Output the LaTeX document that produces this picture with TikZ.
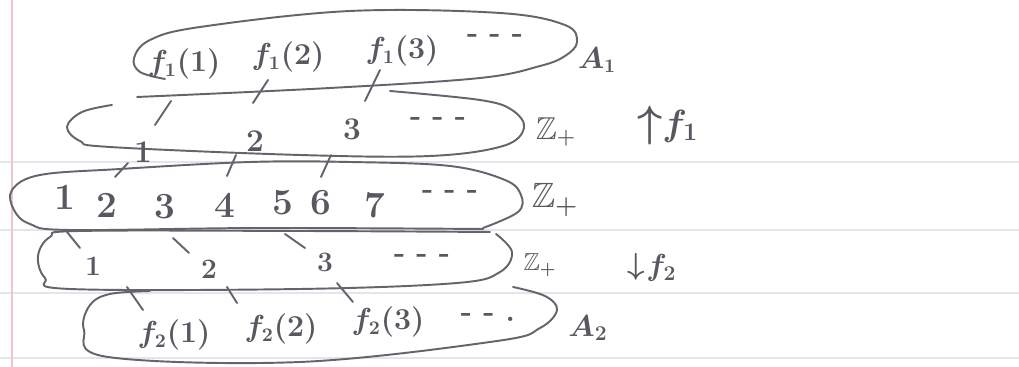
\documentclass[tikz,border=0pt]{standalone}
\usepackage{amssymb}
\usetikzlibrary{calc}
\definecolor{pencilc}{RGB}{100,100,108}
\definecolor{textc}{RGB}{88,88,96}
\definecolor{rulec}{RGB}{226,229,234}
\definecolor{marginc}{RGB}{236,196,210}
\tikzset{
  pencil/.style={draw=pencilc, line width=1.1pt, line cap=round, line join=round},
  hw/.style={text=textc, inner sep=0pt},
  sA/.style={hw, font=\fontsize{16}{18}\selectfont\boldmath\bfseries},
  sB/.style={hw, font=\fontsize{18}{20}\selectfont\bfseries},
  sC/.style={hw, font=\fontsize{21}{24}\selectfont\bfseries},
  sD/.style={hw, font=\fontsize{16}{18}\selectfont\bfseries},
  dots/.style={hw, font=\fontsize{17}{19}\selectfont\bfseries},
}
\begin{document}
\begin{tikzpicture}[x=0.02cm, y=-0.02cm]
\useasboundingbox (0,0) rectangle (1019,367);
\fill[white] (0,0) rectangle (1019,367);
% paper
\foreach \yy in {162,230,293,358} \draw[rulec, line width=0.8pt] (0,\yy) -- (1019,\yy);
\draw[marginc, line width=0.9pt] (12,0) -- (12,367);

% loops
\draw[pencil] plot[smooth, tension=0.6] coordinates {(165,79) (140,72) (134,58) (150,40) (200,27) (350,11) (500,13) (565,25) (577,42) (565,56) (540,66) (480,78) (330,88) (137,97)};
\draw[pencil] plot[smooth, tension=0.6] coordinates {(112,105) (82,112) (67,127) (80,141) (110,147) (300,155) (430,156) (503,146) (524,128) (512,110) (480,100) (390,91)};
\draw[pencil] plot[smooth, tension=0.6] coordinates {(483,228) (518,212) (521,195) (505,180) (450,166) (350,162) (250,162) (120,169) (40,175) (12,190) (14,210) (30,224) (70,230) (260,228) (483,229)};
\draw[pencil] plot[smooth, tension=0.6] coordinates {(490,232) (300,231) (80,231) (50,237) (38,256) (45,278) (70,289) (300,289) (457,283) (500,272) (512,252) (496,234)};
\draw[pencil] plot[smooth, tension=0.6] coordinates {(150,291) (110,294) (90,305) (84,330) (108,357) (300,362) (497,341) (540,328) (557,310) (545,296) (513,287)};

% row 1
\node[sA] (f11) at (184,64) {$f_1(1)$};
\node[sA] (f12) at (288,57) {$f_1(2)$};
\node[sA] (f13) at (402,51) {$f_1(3)$};
\node[dots] (d1) at (495,39) {- - -};
% row 2
\node[sB] (a1) at (143,152) {1};
\node[sB] (a2) at (255,141) {2};
\node[sB] (a3) at (352,129) {3};
\node[dots] (d2) at (438,122) {- - -};
% row 3
\node[sC] (n1) at (65,197) {1};
\node[sC] (n2) at (107,205) {2};
\node[sC] (n3) at (165,207) {3};
\node[sC] (n4) at (225,205) {4};
\node[sC] (n5) at (283,203) {5};
\node[sC] (n6) at (321,203) {6};
\node[sC] (n7) at (375,205) {7};
\node[dots] (d3) at (450,195) {- - -};
% row 4
\node[sD] (b1) at (93,266) {1};
\node[sD] (b2) at (209,269) {2};
\node[sD] (b3) at (325,262) {3};
\node[dots] (d4) at (422,259) {- - -};
% row 5
\node[sA] (g1) at (174,335) {$f_2(1)$};
\node[sA] (g2) at (281,329) {$f_2(2)$};
\node[sA] (g3) at (388,322) {$f_2(3)$};
\node[dots] (d5) at (488,318) {- - .};

% labels
\node[hw, font=\fontsize{16}{18}\selectfont\boldmath] (A1) at (597,60) {$A_1$};
\node[hw, font=\fontsize{18}{20}\selectfont\boldmath] (Z1) at (556,132) {$\mathbb{Z}_+$};
\node[hw, font=\fontsize{28}{30}\selectfont\boldmath] (upa) at (650,126) {$\uparrow$};
\node[hw, font=\fontsize{21}{24}\selectfont\boldmath, anchor=west] (upf) at (662,126) {$f_1$};
\node[hw, font=\fontsize{20}{22}\selectfont\boldmath] (Z2) at (555,200) {$\mathbb{Z}_+$};
\node[hw, font=\fontsize{14}{16}\selectfont\boldmath] (Z3) at (540,265) {$\mathbb{Z}_+$};
\node[hw, font=\fontsize{18}{20}\selectfont\boldmath] (dna) at (636,267) {$\downarrow$};
\node[hw, font=\fontsize{18}{20}\selectfont\boldmath, anchor=west] (dnf) at (646,268) {$f_2$};
\node[hw, font=\fontsize{18}{20}\selectfont\boldmath] (A2) at (588,328) {$A_2$};

% connectors row1 -> row2
\draw[pencil] ($(f11)+(-13,37)$) -- ($(a1)+(12,-27)$);
\draw[pencil] ($(f12)+(-20,23)$) -- ($(a2)+(-2,-38)$);
\draw[pencil] ($(f13)+(-22,19)$) -- ($(a3)+(13,-28)$);
% row2 -> row3
\draw[pencil] ($(a1)+(-15,11)$) -- ($(n2)+(8,-28)$);
\draw[pencil] ($(a2)+(-19,14)$) -- ($(n4)+(2,-29)$);
\draw[pencil] ($(a3)+(-21,26)$) -- ($(n6)+(0,-26)$);
% row3 -> row4
\draw[pencil] ($(n1)+(2,35)$) -- ($(b1)+(-13,-18)$);
\draw[pencil] ($(n3)+(8,31)$) -- ($(b2)+(-20,-16)$);
\draw[pencil] ($(n5)+(2,31)$) -- ($(b3)+(-20,-14)$);
% row4 -> row5
\draw[pencil] ($(b1)+(34,21)$) -- ($(g1)+(-31,-25)$);
\draw[pencil] ($(b2)+(18,18)$) -- ($(g2)+(-44,-26)$);
\draw[pencil] ($(b3)+(12,21)$) -- ($(g3)+(-35,-20)$);
\end{tikzpicture}
\end{document}
